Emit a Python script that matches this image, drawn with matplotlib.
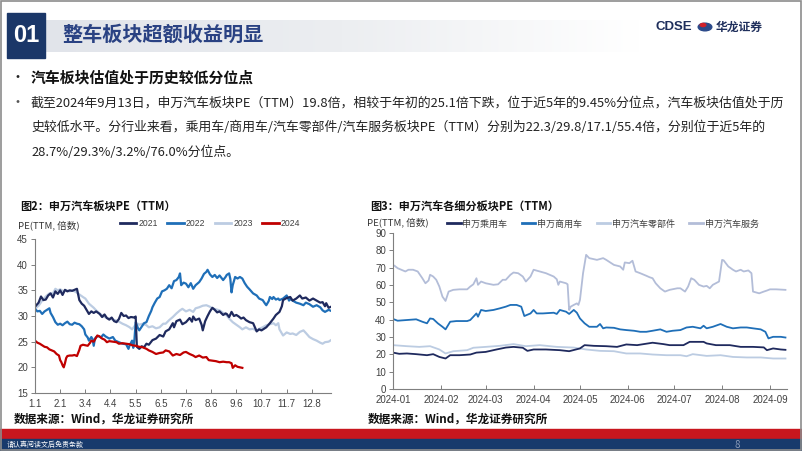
import numpy as np
import matplotlib
matplotlib.use('Agg')
import matplotlib.pyplot as plt
from matplotlib.patches import Rectangle, Circle
from matplotlib.lines import Line2D
from matplotlib.colors import LinearSegmentedColormap

plt.rcParams['font.family'] = ['Noto Sans CJK SC', 'DejaVu Sans']

# ---- data: fig 2, SW auto sector PE(TTM) by year, x = trading day of year ----
pe2021 = [(0, 31.8), (3, 32.6), (5, 33.8), (7, 33.1), (9, 33.2), (11, 34.0), (13, 34.4), (15, 33.6),
          (17, 34.8), (19, 34.3), (21, 35.0), (23, 34.1), (25, 35.1), (27, 34.8), (29, 35.0), (31, 34.9),
          (33, 35.1), (35, 35.3), (37, 33.1), (39, 32.4), (41, 32.0), (43, 31.2), (45, 30.4), (47, 30.9),
          (49, 30.6), (51, 30.9), (54, 30.4), (56, 29.8), (58, 30.3), (60, 29.6), (62, 29.3), (64, 29.7),
          (66, 29.0), (68, 28.8), (70, 29.4), (72, 30.6), (74, 30.0), (76, 30.1), (78, 29.6), (80, 29.8),
          (83, 29.7), (84, 29.9), (85, 24.0), (87, 23.6), (89, 24.1), (91, 23.9), (93, 24.6), (95, 24.4),
          (98, 25.3), (101, 25.6), (104, 26.3), (107, 26.0), (109, 27.0), (112, 27.4), (115, 28.6),
          (116, 27.8), (118, 29.0), (121, 29.3), (123, 28.4), (126, 28.8), (129, 29.6), (131, 28.9),
          (132, 29.9), (134, 29.2), (137, 29.5), (139, 28.3), (140, 27.2), (142, 29.0), (144, 30.0),
          (146, 30.9), (148, 31.6), (150, 31.2), (152, 30.7), (154, 30.9), (157, 30.2), (159, 30.5),
          (160, 30.4), (162, 29.8), (164, 30.8), (166, 30.0), (168, 30.2), (170, 29.9), (172, 29.5),
          (174, 29.7), (176, 29.2), (179, 28.8), (182, 28.6), (185, 27.0), (187, 27.4), (189, 27.2),
          (191, 27.5), (193, 27.8), (196, 28.6), (199, 29.5), (201, 30.2), (204, 30.8), (206, 31.9),
          (207, 33.1), (210, 33.5), (213, 33.7), (215, 33.0), (218, 33.4), (220, 33.8), (221, 34.0),
          (223, 33.4), (226, 33.6), (229, 33.0), (232, 33.4), (235, 33.0), (238, 32.6), (240, 32.7),
          (242, 31.9), (243, 32.5), (245, 31.6), (247, 31.8)]
pe2022 = [(0, 31.4), (2, 30.9), (4, 31.0), (6, 30.4), (8, 30.9), (10, 31.2), (12, 31.5), (13, 30.6),
          (15, 29.8), (17, 28.8), (19, 28.3), (21, 28.5), (23, 28.2), (25, 28.6), (27, 28.9), (29, 28.4),
          (31, 28.3), (33, 28.7), (35, 28.5), (37, 28.4), (39, 28.0), (41, 27.4), (42, 26.4), (44, 25.8),
          (45, 25.2), (47, 25.9), (48, 25.5), (49, 24.2), (50, 25.6), (51, 25.9), (53, 26.1), (55, 25.8),
          (57, 26.4), (59, 26.0), (62, 25.6), (65, 25.9), (67, 25.2), (70, 24.9), (73, 24.6), (76, 24.5),
          (78, 23.6), (79, 24.3), (81, 25.2), (82, 23.8), (83, 25.5), (84, 28.8), (86, 27.6), (87, 27.2),
          (89, 27.9), (91, 28.6), (93, 28.8), (95, 30.0), (97, 31.0), (98, 31.7), (100, 32.6), (102, 33.4),
          (104, 33.7), (106, 34.8), (108, 35.0), (110, 35.3), (112, 36.0), (114, 35.4), (116, 36.8),
          (118, 37.0), (120, 37.6), (121, 38.3), (122, 36.0), (124, 36.5), (126, 36.3), (128, 35.6),
          (130, 36.4), (132, 35.3), (134, 36.0), (137, 36.6), (139, 37.3), (141, 38.2), (143, 38.6),
          (144, 39.0), (146, 38.1), (148, 37.6), (150, 38.0), (152, 37.4), (154, 37.9), (156, 37.3),
          (157, 37.0), (159, 37.6), (160, 38.0), (162, 38.3), (163, 37.2), (164, 34.6), (165, 36.0),
          (167, 37.6), (169, 37.3), (171, 37.6), (173, 37.3), (175, 36.4), (177, 35.7), (179, 35.2),
          (182, 34.4), (185, 34.0), (187, 33.4), (190, 33.1), (192, 32.4), (193, 32.1), (195, 32.9),
          (196, 33.7), (198, 33.3), (199, 33.7), (201, 33.2), (203, 33.4), (204, 33.1), (207, 33.4),
          (210, 34.0), (212, 33.0), (213, 33.3), (215, 33.0), (218, 32.6), (221, 32.4), (224, 32.1),
          (226, 32.6), (229, 32.3), (232, 31.8), (235, 32.1), (238, 31.7), (240, 31.1), (242, 30.8),
          (245, 31.2), (247, 31.0)]
pe2023 = [(0, 31.4), (3, 32.0), (6, 33.0), (9, 33.8), (12, 34.4), (15, 34.4), (17, 35.3), (19, 35.0),
          (21, 35.2), (24, 34.8), (26, 35.0), (29, 34.8), (31, 35.0), (34, 34.7), (37, 34.2), (40, 33.7),
          (42, 33.4), (45, 32.4), (47, 32.0), (49, 31.6), (51, 31.1), (54, 30.5), (56, 30.1), (59, 29.7),
          (62, 29.5), (65, 29.3), (68, 29.1), (70, 28.9), (73, 28.5), (76, 28.2), (79, 27.8), (81, 27.4),
          (83, 28.0), (85, 28.6), (87, 28.3), (90, 28.5), (93, 28.2), (95, 27.8), (98, 28.0), (101, 27.6),
          (104, 27.8), (107, 28.5), (109, 28.5), (112, 29.2), (115, 29.8), (118, 30.5), (121, 31.1),
          (123, 31.4), (126, 30.9), (129, 31.2), (132, 30.8), (134, 31.5), (137, 31.7), (140, 32.0),
          (143, 32.1), (146, 31.8), (148, 31.5), (151, 31.3), (154, 31.1), (157, 30.6), (160, 30.1),
          (162, 29.5), (165, 28.8), (168, 28.3), (171, 27.8), (173, 27.4), (176, 27.8), (179, 27.4),
          (182, 27.5), (185, 27.1), (187, 27.5), (190, 27.8), (193, 28.2), (196, 28.4), (199, 28.6),
          (201, 28.2), (203, 28.6), (204, 27.4), (207, 26.2), (210, 26.8), (213, 26.5), (215, 26.6),
          (218, 26.3), (221, 26.9), (224, 27.2), (226, 26.7), (229, 25.9), (232, 25.5), (235, 25.2),
          (238, 24.8), (240, 24.6), (242, 24.9), (245, 25.0), (247, 25.3)]
pe2024 = [(0, 25.2), (2, 24.8), (4, 24.6), (6, 24.3), (8, 24.0), (10, 23.9), (12, 23.5), (14, 23.3),
          (16, 23.1), (18, 22.6), (20, 22.3), (21, 21.4), (22, 21.0), (23, 20.4), (24, 20.0), (25, 20.8),
          (26, 21.8), (27, 22.2), (29, 22.3), (31, 22.3), (33, 22.4), (35, 22.2), (37, 23.4), (38, 24.2),
          (40, 24.4), (42, 24.3), (44, 24.2), (46, 24.8), (47, 25.2), (49, 25.0), (51, 25.8), (52, 26.2),
          (54, 26.0), (56, 25.6), (58, 25.4), (60, 24.9), (62, 25.1), (65, 25.0), (68, 24.9), (70, 24.6),
          (73, 24.7), (76, 24.6), (79, 24.5), (81, 24.3), (84, 24.2), (87, 24.0), (90, 23.9), (93, 23.6),
          (95, 23.3), (98, 23.0), (101, 22.6), (104, 22.8), (107, 22.9), (109, 23.3), (112, 23.1),
          (115, 22.3), (118, 22.6), (121, 22.4), (124, 22.9), (126, 23.0), (129, 22.6), (132, 22.3),
          (134, 22.0), (137, 22.3), (140, 21.9), (143, 22.0), (145, 21.4), (148, 21.3), (151, 21.2),
          (154, 21.0), (157, 21.1), (160, 21.0), (162, 21.0), (164, 20.8), (165, 19.9), (167, 20.4),
          (169, 20.1), (171, 20.0), (173, 19.9)]
left_ticks = ['1.1', '2.1', '3.4', '4.4', '5.5', '6.5', '7.6', '8.6', '9.6', '10.7', '11.7', '12.8']

# ---- data: fig 3, sub-sector PE(TTM) 2024, x = day of year ----
passenger = [(0, 21.0), (4, 20.3), (9, 20.5), (15, 20.1), (22, 19.5), (26, 20.1), (30, 18.5), (34, 17.6),
             (37, 19.5), (43, 19.5), (50, 19.9), (54, 21.0), (60, 21.4), (67, 22.8), (73, 23.9), (78, 24.3),
             (84, 23.8), (87, 22.0), (91, 22.8), (99, 22.8), (108, 22.4), (114, 21.8), (121, 23.4),
             (124, 25.3), (130, 24.9), (138, 24.7), (145, 24.3), (151, 25.7), (158, 25.3), (168, 26.7),
             (175, 25.9), (179, 25.3), (188, 25.3), (192, 27.2), (201, 27.2), (203, 26.3), (209, 25.3),
             (218, 25.3), (225, 24.3), (233, 24.3), (240, 24.0), (242, 22.4), (246, 23.4), (251, 22.8),
             (254, 22.6)]
commercial = [(0, 40.4), (3, 39.4), (9, 39.8), (15, 40.2), (19, 38.8), (22, 37.9), (24, 40.7), (26, 40.4),
              (29, 37.9), (32, 35.9), (34, 34.4), (37, 38.8), (41, 39.2), (48, 39.2), (50, 39.8), (52, 41.7),
              (54, 43.6), (55, 41.7), (57, 45.6), (60, 45.0), (65, 45.6), (69, 46.5), (73, 47.5), (76, 48.5),
              (80, 48.5), (83, 47.5), (85, 42.1), (89, 43.6), (91, 45.6), (93, 43.6), (97, 43.6), (104, 44.0),
              (106, 43.3), (108, 45.6), (112, 44.6), (114, 43.3), (117, 45.6), (119, 44.0), (121, 40.7),
              (124, 37.9), (127, 35.9), (132, 35.9), (134, 37.5), (136, 35.0), (138, 35.5), (143, 35.3),
              (147, 34.4), (151, 34.0), (156, 33.6), (160, 33.0), (164, 33.0), (168, 33.6), (173, 34.4),
              (177, 33.0), (181, 33.6), (186, 34.0), (190, 35.5), (194, 35.9), (199, 35.0), (201, 36.5),
              (203, 35.0), (207, 35.9), (212, 37.5), (216, 35.9), (220, 35.0), (225, 35.5), (229, 35.5),
              (233, 35.0), (238, 34.4), (241, 33.0), (243, 29.2), (246, 30.1), (251, 30.1), (254, 29.7)]
parts = [(0, 25.3), (9, 24.7), (17, 24.3), (24, 24.7), (30, 22.8), (34, 20.5), (39, 21.8), (48, 22.4),
         (52, 23.8), (60, 24.3), (69, 24.9), (78, 25.9), (86, 24.7), (95, 25.3), (106, 24.3), (117, 23.9),
         (125, 22.8), (134, 22.0), (143, 21.8), (151, 20.5), (160, 20.5), (168, 19.9), (177, 19.5),
         (186, 19.5), (190, 18.9), (194, 20.1), (203, 19.1), (212, 19.5), (220, 18.5), (229, 18.2),
         (238, 18.2), (246, 17.6), (254, 17.6)]
service = [(1, 71.1), (3, 69.7), (8, 67.8), (10, 68.8), (13, 68.8), (16, 67.8), (19, 63.9), (21, 61.0),
           (23, 62.6), (24, 65.9), (26, 64.9), (28, 63.0), (30, 59.1), (32, 53.3), (34, 50.8), (36, 56.2),
           (39, 57.2), (43, 57.5), (48, 57.5), (50, 59.1), (52, 60.4), (54, 63.9), (55, 60.1), (57, 62.0),
           (60, 61.0), (65, 60.1), (68, 60.4), (71, 63.0), (73, 63.0), (76, 65.9), (78, 67.2), (81, 66.8),
           (84, 64.9), (86, 62.0), (89, 64.9), (91, 68.8), (95, 67.8), (99, 66.8), (104, 64.9), (106, 63.3),
           (107, 60.1), (108, 62.0), (112, 61.0), (113, 60.4), (114, 45.6), (115, 47.5), (117, 48.5),
           (119, 49.4), (120, 48.5), (121, 51.4), (123, 66.8), (125, 77.4), (127, 75.5), (132, 74.5),
           (136, 75.5), (138, 74.5), (143, 71.6), (147, 70.7), (149, 68.8), (150, 73.0), (153, 72.6),
           (155, 74.0), (157, 67.8), (160, 66.8), (164, 65.3), (166, 64.5), (168, 63.9), (170, 61.0),
           (173, 58.1), (176, 56.2), (179, 57.2), (184, 58.1), (186, 58.1), (189, 56.2), (191, 59.1),
           (193, 63.9), (195, 63.0), (198, 60.1), (201, 59.1), (203, 59.5), (205, 58.1), (207, 60.1),
           (211, 62.0), (213, 74.5), (214, 74.2), (217, 70.7), (220, 68.8), (222, 67.8), (225, 68.8),
           (227, 67.8), (230, 68.4), (232, 66.8), (233, 56.2), (237, 55.2), (240, 56.2), (242, 56.8),
           (244, 57.5), (248, 57.5), (254, 57.2)]
month_days = [0, 31, 60, 91, 121, 152, 182, 213, 244]
month_labels = ['2024-01', '2024-02', '2024-03', '2024-04', '2024-05',
                '2024-06', '2024-07', '2024-08', '2024-09']

NAVY = '#1f2a5e'
BLUE = '#1f6fb8'
LIGHT = '#bccce2'
RED = '#c00000'
SERV = '#b3bdd8'

W, H = 802, 451


def fx(px):
    return px / W


def fy(py):
    return 1 - py / H


fig = plt.figure(figsize=(8.02, 4.51), dpi=100)

# header band with gradient
band = fig.add_axes([fx(45), fy(52), fx(640) - fx(45), fy(20) - fy(52)])
cmap = LinearSegmentedColormap.from_list('band', ['#e1e4ea', '#eceef1', '#ffffff'])
band.imshow(np.linspace(0, 1, 256)[None, :], aspect='auto', cmap=cmap, extent=[0, 1, 0, 1])
band.axis('off')

fig.patches.append(Rectangle((fx(7), fy(58)), fx(45) - fx(7), fy(13) - fy(58),
                             transform=fig.transFigure, color='#1b3768'))
fig.text(fx(26), fy(35), '01', color='white', fontsize=17, fontweight='bold',
         ha='center', va='center', family='Liberation Sans')
fig.text(fx(62), fy(34), '整车板块超额收益明显', color='#2a4283', fontsize=14.5,
         fontweight='bold', ha='left', va='center')

# logo
fig.text(fx(655), fy(27), 'CDSE', color='#1f2f5c', fontsize=9.5, fontweight='bold',
         ha='left', va='center', family='Liberation Sans')
fig.patches.append(Circle((fx(705), fy(27)), 0.0085, transform=fig.transFigure,
                          color='#2b4a8a'))
fig.patches.append(Circle((fx(703), fy(25)), 0.0035, transform=fig.transFigure,
                          color='#d0202a'))
fig.text(fx(716), fy(27), '华龙证券', color='#1f2f5c', fontsize=8.5, fontweight='bold',
         ha='left', va='center')

# bullets
fig.text(fx(10), fy(78), '•', fontsize=10, ha='left', va='center', color='#222222')
fig.text(fx(31), fy(78), '汽车板块估值处于历史较低分位点', fontsize=10.7, fontweight='bold',
         ha='left', va='center', color='#111111')
fig.text(fx(10), fy(103), '•', fontsize=10, ha='left', va='center', color='#555555')
body = ['截至2024年9月13日，申万汽车板块PE（TTM）19.8倍，相较于年初的25.1倍下跌，位于近5年的9.45%分位点，汽车板块估值处于历',
        '史较低水平。分行业来看，乘用车/商用车/汽车零部件/汽车服务板块PE（TTM）分别为22.3/29.8/17.1/55.4倍，分别位于近5年的',
        '28.7%/29.3%/3.2%/76.0%分位点。']
for i, line in enumerate(body):
    fig.text(fx(31), fy(103 + 24.5 * i), line, fontsize=9.3, ha='left', va='center',
             color='#222222')

# chart titles
fig.text(fx(20), fy(206), '图2：申万汽车板块PE（TTM）', fontsize=8, fontweight='bold',
         ha='left', va='center', color='#111111')
fig.text(fx(370), fy(206), '图3：申万汽车各细分板块PE（TTM）', fontsize=8, fontweight='bold',
         ha='left', va='center', color='#111111')
fig.text(fx(18), fy(225), 'PE(TTM, 倍数)', fontsize=6.9, ha='left', va='center', color='#333333')
fig.text(fx(367), fy(222), 'PE(TTM, 倍数)', fontsize=6.9, ha='left', va='center', color='#333333')


def style_axes(ax):
    for s in ['top', 'right']:
        ax.spines[s].set_visible(False)
    for s in ['left', 'bottom']:
        ax.spines[s].set_color('#7f7f7f')
        ax.spines[s].set_linewidth(0.8)
    ax.tick_params(axis='y', direction='out', length=3, width=0.7, color='#7f7f7f',
                   labelsize=7, labelcolor='#404040', pad=2)
    ax.tick_params(axis='x', direction='in', length=3, width=0.7, color='#7f7f7f',
                   labelsize=7, labelcolor='#404040', pad=4)
    for lab in ax.get_xticklabels() + ax.get_yticklabels():
        lab.set_family('Liberation Sans')


# ---- left chart ----
ax1 = fig.add_axes([fx(35), fy(393), fx(331) - fx(35), fy(239) - fy(393)])
series1 = [('2023', pe2023, LIGHT), ('2022', pe2022, BLUE), ('2021', pe2021, NAVY), ('2024', pe2024, RED)]
for name, pts, c in series1:
    x, y = zip(*pts)
    ax1.plot(x, y, color=c, lw=1.6, solid_joinstyle='round')
ax1.set_xlim(0, 247)
ax1.set_ylim(15, 45)
ax1.set_yticks(range(15, 46, 5))
ax1.set_xticks(range(0, 21 * len(left_ticks), 21))
ax1.set_xticklabels(left_ticks)
style_axes(ax1)

h1 = [Line2D([], [], color=c, lw=2) for c in [NAVY, BLUE, LIGHT, RED]]
leg1 = fig.legend(h1, ['2021', '2022', '2023', '2024'], loc='center left',
                  bbox_to_anchor=(fx(120), fy(224)), ncol=4, frameon=False,
                  handlelength=1.9, handletextpad=0.25, columnspacing=1.1,
                  borderaxespad=0, borderpad=0,
                  prop={'family': 'Liberation Sans', 'size': 6.2})
for t in leg1.get_texts():
    t.set_color('#404040')

# ---- right chart ----
ax2 = fig.add_axes([fx(393), fy(389), fx(787) - fx(393), fy(233) - fy(389)])
series2 = [(service, SERV), (parts, LIGHT), (commercial, BLUE), (passenger, NAVY)]
for pts, c in series2:
    x, y = zip(*pts)
    ax2.plot(x, y, color=c, lw=1.3)
ax2.set_xlim(0, 255)
ax2.set_ylim(0, 90)
ax2.set_yticks(range(0, 91, 10))
ax2.set_xticks(month_days)
ax2.set_xticklabels(month_labels)
style_axes(ax2)

h2 = [Line2D([], [], color=c, lw=2) for c in [NAVY, BLUE, LIGHT, SERV]]
leg2 = fig.legend(h2, ['申万乘用车', '申万商用车', '申万汽车零部件', '申万汽车服务'],
                  loc='center left', bbox_to_anchor=(fx(447), fy(224)), ncol=4,
                  frameon=False, handlelength=1.5, handletextpad=0.2,
                  columnspacing=1.6, borderaxespad=0, borderpad=0,
                  prop={'size': 6.5})
for t in leg2.get_texts():
    t.set_color('#404040')

# sources
fig.text(fx(14), fy(419), '数据来源：Wind，华龙证券研究所', fontsize=8.4, fontweight='bold',
         ha='left', va='center', color='#111111')
fig.text(fx(368), fy(419), '数据来源：Wind，华龙证券研究所', fontsize=8.4, fontweight='bold',
         ha='left', va='center', color='#111111')

# footer bands
fig.patches.append(Rectangle((0, fy(439)), 1, fy(429) - fy(439), transform=fig.transFigure,
                             color='#c8161e'))
fig.patches.append(Rectangle((0, 0), 1, fy(439), transform=fig.transFigure, color='#173a6c'))
fig.text(fx(7), fy(445), '请认真阅读文后免责条款', fontsize=5, color='white', ha='left', va='center')
fig.text(fx(737), fy(445), '8', fontsize=7, color='#8a9bb8', ha='center', va='center')

# slide frame
fig.patches.append(Rectangle((0.001, 0.002), 0.998, 0.996, transform=fig.transFigure,
                             fill=False, edgecolor='#8c8c8c', lw=1.2))

fig.savefig('out.png', dpi=100)
